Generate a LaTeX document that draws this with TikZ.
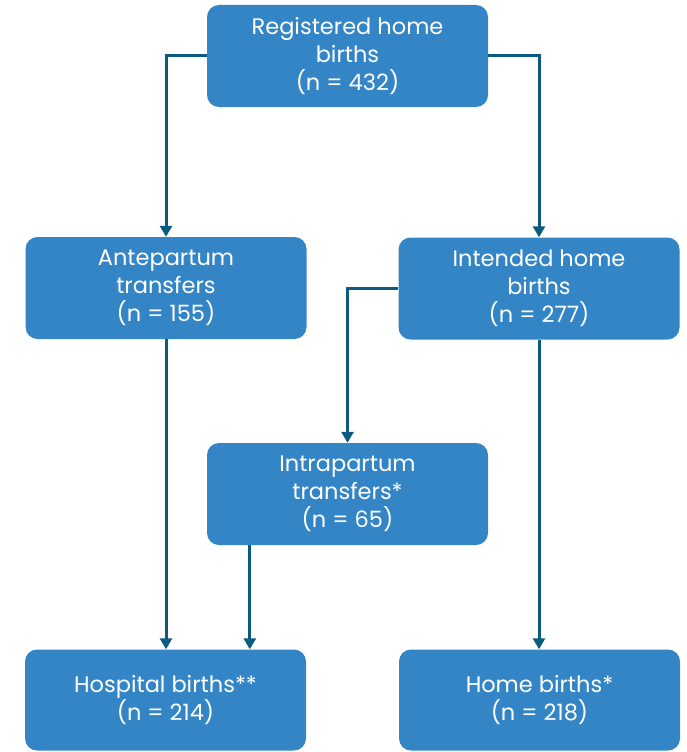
\documentclass[tikz,border=0pt]{standalone}
\usepackage{fontspec}
\setmainfont{Poppins}
\usetikzlibrary{arrows.meta}
\definecolor{boxblue}{HTML}{3385C6}
\definecolor{linecol}{HTML}{0B5A80}
\tikzset{
  fbox/.style={draw=none, fill=boxblue, rounded corners=12pt, minimum width=281pt, minimum height=102pt,
    text=white, align=center, font=\fontsize{22.5}{28}\selectfont, inner sep=0pt},
  conn/.style={draw=linecol, line width=3pt, -{Triangle[length=11pt,width=12pt]}}
}
\begin{document}
\begin{tikzpicture}[x=1pt,y=-1pt]
\useasboundingbox (0,0) rectangle (686,752);
\node[fbox] (top) at (347.5,56) {Registered home\\births\\(n = 432)};
\node[fbox] (ante) at (166,288) {Antepartum\\transfers\\(n = 155)};
\node[fbox] (intended) at (539,288.5) {Intended home\\births\\(n = 277)};
\node[fbox] (intra) at (347.5,494) {Intrapartum\\transfers*\\(n = 65)};
\node[fbox, minimum height=101pt] (hosp) at (165.5,700) {Hospital births**\\(n = 214)};
\node[fbox, minimum height=101pt] (home) at (539.5,700) {Home births*\\(n = 218)};
\coordinate (ib) at ([xshift=43pt]intra.south west);
\draw[conn] (top.west) -| (ante.north);
\draw[conn] (top.east) -| (intended.north);
\draw[conn] (intended.west) -| (intra.north);
\draw[conn] (ante.south) -- (ante.south |- hosp.north);
\draw[conn] (intended.south) -- (intended.south |- home.north);
\draw[conn] (ib) -- (ib |- hosp.north);
\end{tikzpicture}
\end{document}
